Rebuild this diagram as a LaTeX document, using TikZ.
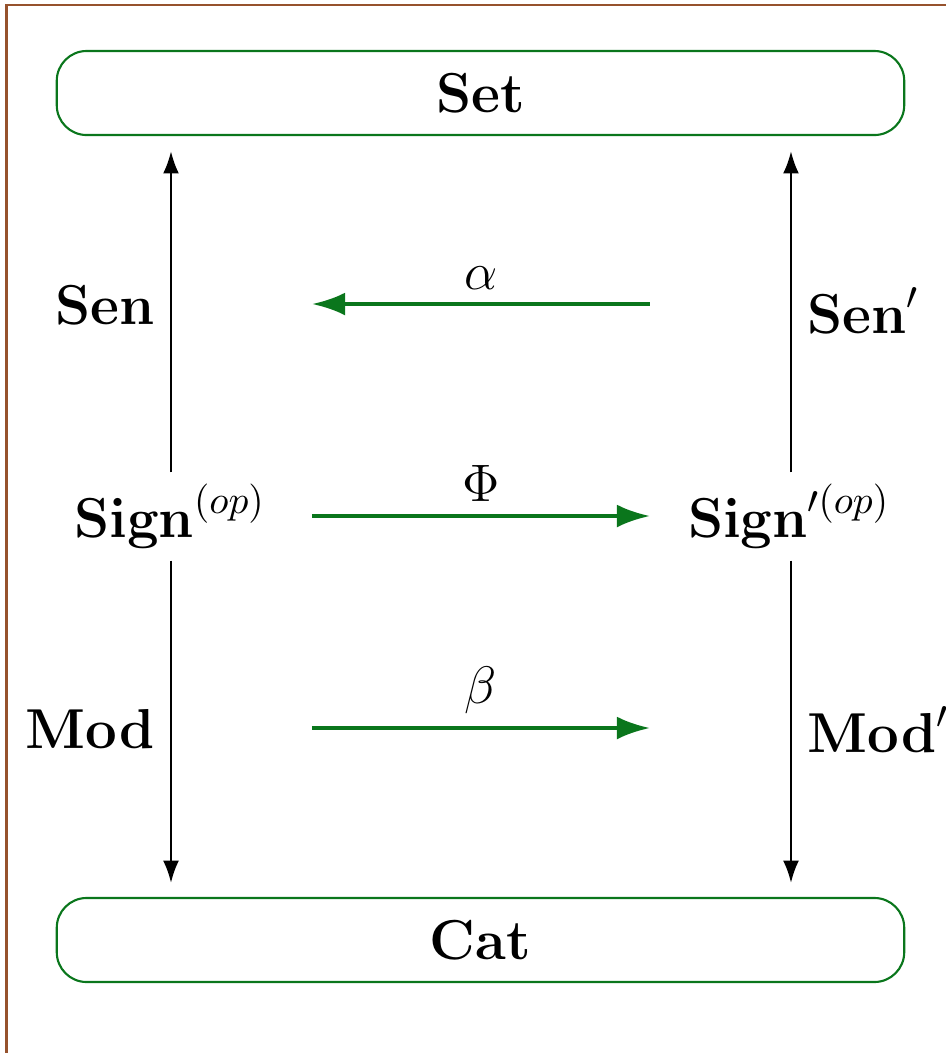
\RequirePackage{fix-cm}
\documentclass[tikz,border=0pt]{standalone}
\usetikzlibrary{arrows.meta}
\definecolor{boxgreen}{RGB}{10,118,28}
\definecolor{framebrown}{RGB}{150,82,45}
\begin{document}
\begin{tikzpicture}[x=0.01cm,y=-0.01cm,
  lbl/.style={font=\fontsize{16}{19}\selectfont, inner sep=0pt},
  catbox/.style={lbl, draw=boxgreen, line width=0.6pt, rounded corners=8.5pt,
                 minimum width=8.47cm, minimum height=0.84cm},
  functor/.style={draw=black, line width=0.6pt, -{Latex[length=6.3pt,width=4.5pt]}},
  nat/.style={draw=boxgreen, line width=1.15pt, -{Latex[length=9.4pt,width=6.5pt]}},
  natlabel/.style={font=\fontsize{15}{18}\selectfont, inner sep=0pt, above=3.6pt},
]
\useasboundingbox (0,0) rectangle (946,1053);
% page frame
\draw[framebrown, line width=0.6pt] (6.5,1053) -- (6.5,5) -- (946,5);

% target categories
\node[catbox] (set) at (480.5,93) {\textbf{Set}};
\node[catbox] (cat) at (480.5,940) {\textbf{Cat}};

% signature categories
\node[lbl, minimum height=0.87cm] (sL) at (170,516.5) {$\mathbf{Sign}^{(op)}$};
\node[lbl, minimum height=0.87cm] (sR) at (789,516.5) {$\mathbf{Sign}'^{(op)}$};

% sentence and model functors
\coordinate (xL) at (171,0);
\coordinate (xR) at (791,0);
\draw[functor, shorten >=4.3pt] (sL.north -| xL) -- (xL |- set.south);
\draw[functor, shorten >=4.3pt] (sR.north -| xR) -- (xR |- set.south);
\draw[functor, shorten >=4pt] (sL.south -| xL) -- (xL |- cat.north);
\draw[functor, shorten >=4pt] (sR.south -| xR) -- (xR |- cat.north);

\node[lbl, anchor=base east] (sen)  at (155,324) {$\mathbf{Sen}$};
\node[lbl, anchor=base west] (senp) at (807,333) {$\mathbf{Sen}'$};
\node[lbl, anchor=base east] (mod)  at (155,748) {$\mathbf{Mod}$};
\node[lbl, anchor=base west] (modp) at (807,752) {$\mathbf{Mod}'$};

% natural transformations and the signature morphism
\coordinate (aR) at (650,304);
\coordinate (aL) at (312,304);
\coordinate (pL) at (312,516);
\coordinate (pR) at (650,516);
\coordinate (bL) at (312,728);
\coordinate (bR) at (650,728);
\draw[nat] (aR) -- node[natlabel] {$\alpha$} (aL);
\draw[nat] (pL) -- node[natlabel] {$\Phi$} (pR);
\draw[nat] (bL) -- node[natlabel] {$\beta$} (bR);
\end{tikzpicture}
\end{document}
